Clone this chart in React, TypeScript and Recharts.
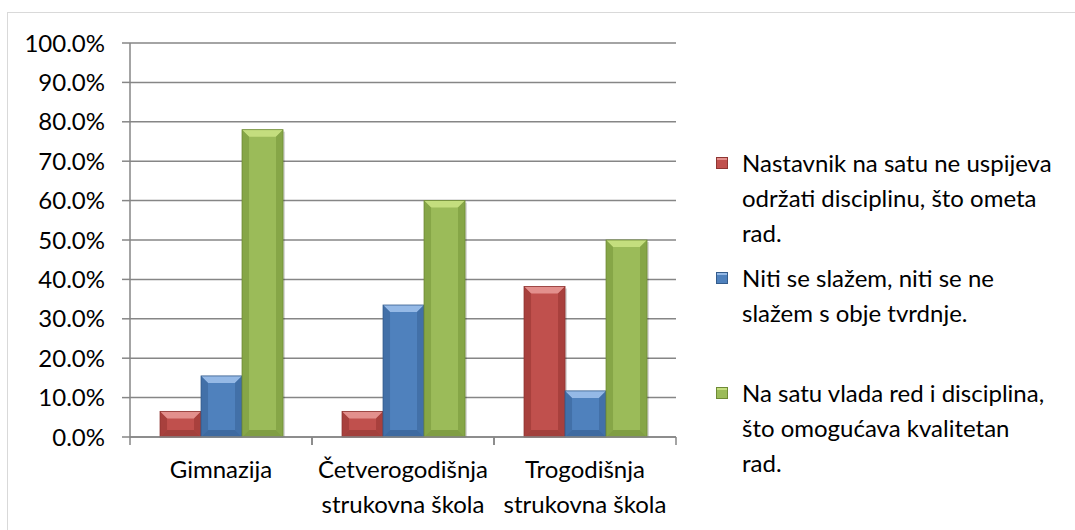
import { BarChart, Bar, XAxis, YAxis, CartesianGrid } from "recharts";

const categories = ["Gimnazija", "Četverogodišnja strukovna škola", "Trogodišnja strukovna škola"];
const categoryLines = [["Gimnazija"], ["Četverogodišnja", "strukovna škola"], ["Trogodišnja", "strukovna škola"]];

const seriesNames = [
    "Nastavnik na satu ne uspijeva održati disciplinu, što ometa rad.",
    "Niti se slažem, niti se ne slažem s obje tvrdnje.",
    "Na satu vlada red i disciplina, što omogućava kvalitetan rad.",
];
const legendLines = [
    ["Nastavnik na satu ne uspijeva", "održati disciplinu, što ometa", "rad."],
    ["Niti se slažem, niti se ne", "slažem s obje tvrdnje."],
    ["Na satu vlada red i disciplina,", "što omogućava kvalitetan", "rad."],
];

const disruptedValues = [6.5, 6.5, 38.2];
const neutralValues = [15.5, 33.5, 11.7];
const orderlyValues = [78.0, 60.0, 50.0];

const yTicks = [0, 10, 20, 30, 40, 50, 60, 70, 80, 90, 100];

const data = categories.map((name, i) => ({
    name,
    disrupted: disruptedValues[i],
    neutral: neutralValues[i],
    orderly: orderlyValues[i],
}));

const COLORS = [
    { base: "#C0504D", light: "#E3908D", dark: "#8E3532", side: "#A8403D" },
    { base: "#4F81BD", light: "#95B9E6", dark: "#345C8C", side: "#4270A8" },
    { base: "#9BBB59", light: "#C4DE7E", dark: "#6E8A35", side: "#86A647" },
];
const KEYS = ["disrupted", "neutral", "orderly"];

const FONT = "Lato, 'Open Sans', sans-serif";
const FONT_SIZE = 24;
const PLOT_LEFT = 130;
const PLOT_RIGHT = 676;
const BAND = (PLOT_RIGHT - PLOT_LEFT) / categories.length;

const BevelBar = (props: any) => {
    const { x, y, width, height, index } = props;
    const c = COLORS[props.colorIndex ?? 0];
    if (!height || height <= 0) return null;
    const b = Math.min(7, width / 4, height / 2);
    return (
        <g key={`bar-${index}`}>
            <rect x={x + 2} y={y + 2} width={width} height={height - 2} fill="#000" opacity={0.15} />
            <rect x={x} y={y} width={width} height={height} fill={c.base} />
            <polygon points={`${x},${y} ${x + width},${y} ${x + width - b},${y + b} ${x + b},${y + b}`} fill={c.light} />
            <polygon points={`${x},${y} ${x + b},${y + b} ${x + b},${y + height - b} ${x},${y + height}`} fill={c.side} />
            <polygon points={`${x + width},${y} ${x + width - b},${y + b} ${x + width - b},${y + height - b} ${x + width},${y + height}`} fill={c.side} />
            <polygon points={`${x},${y + height} ${x + b},${y + height - b} ${x + width - b},${y + height - b} ${x + width},${y + height}`} fill={c.dark} opacity={0.6} />
            <rect x={x} y={y} width={width} height={height} fill="none" stroke={c.dark} strokeWidth={0.8} />
        </g>
    );
};

const CategoryTick = ({ x, y, payload, index }: any) => {
    const lines = categoryLines[index] ?? [payload.value];
    return (
        <g>
            <line x1={x - BAND / 2} y1={y} x2={x - BAND / 2} y2={y + 8} stroke="#868686" strokeWidth={1.5} />
            <line x1={x + BAND / 2} y1={y} x2={x + BAND / 2} y2={y + 8} stroke="#868686" strokeWidth={1.5} />
            <text x={x} y={y + 41} textAnchor="middle" fill="#000" style={{ fontSize: FONT_SIZE, fontFamily: FONT }}>
                {lines.map((l: string, i: number) => (
                    <tspan key={i} x={x} dy={i === 0 ? 0 : 35}>{l}</tspan>
                ))}
            </text>
        </g>
    );
};

const LegendBox = () => (
    <div style={{ position: "absolute", left: 716, top: 145, fontFamily: FONT, fontSize: FONT_SIZE, color: "#000" }}>
        {legendLines.map((lines, i) => (
            <div key={seriesNames[i]} style={{ position: "relative", height: 115, paddingLeft: 26 }}>
                <span
                    style={{
                        position: "absolute",
                        left: 0,
                        top: 12,
                        width: 10,
                        height: 10,
                        background: COLORS[i].base,
                        border: `1px solid ${COLORS[i].dark}`,
                        boxShadow: `inset 0 2px 0 ${COLORS[i].light}`,
                    }}
                />
                {lines.map((l) => (
                    <div key={l} style={{ lineHeight: "35px", whiteSpace: "nowrap" }}>{l}</div>
                ))}
            </div>
        ))}
    </div>
);

export default function App() {
    return (
        <div style={{ position: "absolute", left: 0, top: 0, width: 1075, height: 530, overflow: "hidden", background: "#fff" }}>
            <div style={{ position: "absolute", left: 7, top: 12, width: 1100, height: 600, border: "1px solid #d9d9d9" }} />
            <BarChart
                width={1075}
                height={530}
                data={data}
                margin={{ top: 43, right: 1075 - PLOT_RIGHT, bottom: 0, left: 0 }}
                barGap={0}
                barCategoryGap="16.5%"
                style={{ position: "absolute", left: 0, top: 0 }}
            >
                <CartesianGrid vertical={false} stroke="#868686" strokeWidth={1.5} />
                <XAxis
                    dataKey="name"
                    height={93}
                    axisLine={{ stroke: "#868686", strokeWidth: 1.5 }}
                    tickLine={false}
                    tickSize={0}
                    tickMargin={0}
                    interval={0}
                    tick={<CategoryTick />}
                />
                <YAxis
                    width={PLOT_LEFT}
                    domain={[0, 100]}
                    ticks={yTicks}
                    interval={0}
                    tickFormatter={(v: number) => `${v.toFixed(1)}%`}
                    axisLine={{ stroke: "#868686", strokeWidth: 1.5 }}
                    tickLine={{ stroke: "#868686", strokeWidth: 1.5 }}
                    tickSize={8}
                    tickMargin={17}
                    tick={{ fill: "#000", fontSize: FONT_SIZE, fontFamily: FONT }}
                />
                {KEYS.map((k, i) => (
                    <Bar
                        key={k}
                        dataKey={k}
                        name={seriesNames[i]}
                        fill={COLORS[i].base}
                        isAnimationActive={false}
                        shape={(p: any) => <BevelBar {...p} colorIndex={i} />}
                    />
                ))}
            </BarChart>
            <LegendBox />
        </div>
    );
}
